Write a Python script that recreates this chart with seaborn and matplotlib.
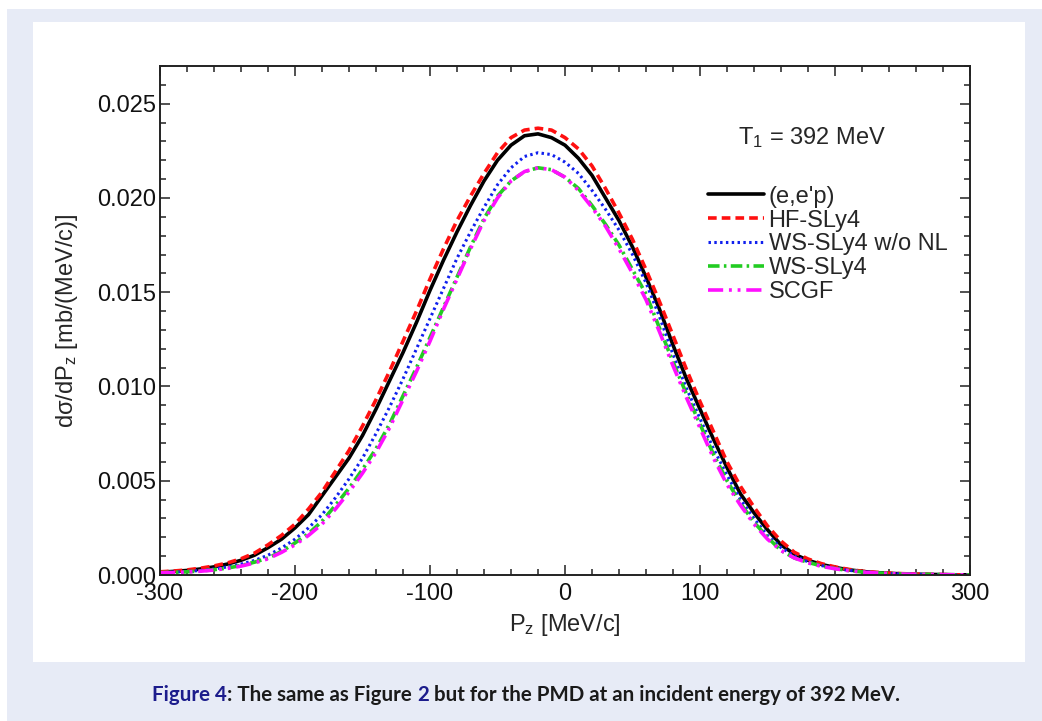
import numpy as np
import pandas as pd
import seaborn as sns
import matplotlib.pyplot as plt
from matplotlib.patches import Rectangle
from matplotlib.ticker import MultipleLocator

# momentum grid (MeV/c)
pz = list(range(-300, 301, 10))

# (e,e'p)
eep = [0.00015, 0.00019, 0.00024, 0.00032, 0.00043, 0.00058, 0.00078, 0.00105, 0.00145, 0.0019,
       0.0025, 0.0032, 0.0042, 0.0052, 0.0062, 0.0074, 0.0088, 0.0103, 0.0118, 0.0134,
       0.0151, 0.0167, 0.0182, 0.0196, 0.0209, 0.0220, 0.0228, 0.0233, 0.0234, 0.0232,
       0.0228, 0.0221, 0.0212, 0.0200, 0.0188, 0.0174, 0.0158, 0.0141, 0.0122, 0.0104,
       0.0088, 0.0072, 0.0057, 0.0043, 0.0033, 0.0024, 0.0016, 0.0011, 0.00078, 0.00056,
       0.00040, 0.00028, 0.00019, 0.00013, 0.00009, 0.00006, 0.00004, 0.00003, 0.00002, 0.00001, 0.00001]

hf_sly4 = [0.00017, 0.00021, 0.00027, 0.00036, 0.00048, 0.00064, 0.00086, 0.00116, 0.0016, 0.0021,
           0.0027, 0.0035, 0.0044, 0.0055, 0.0066, 0.0079, 0.0093, 0.0108, 0.0124, 0.0140,
           0.0157, 0.0173, 0.0188, 0.0201, 0.0213, 0.0224, 0.0232, 0.0236, 0.0237, 0.0236,
           0.0232, 0.0226, 0.0217, 0.0205, 0.0192, 0.0178, 0.0162, 0.0145, 0.0127, 0.0109,
           0.0092, 0.0076, 0.0060, 0.0047, 0.0036, 0.0026, 0.0018, 0.0012, 0.00085, 0.0006,
           0.00043, 0.0003, 0.0002, 0.00014, 0.0001, 0.00007, 0.00005, 0.00003, 0.00002, 0.00001, 0.00001]

ws_sly4_nonl = [0.00012, 0.00015, 0.00019, 0.00024, 0.00032, 0.00043, 0.00058, 0.00077, 0.00105, 0.00143,
                0.0019, 0.0025, 0.0032, 0.0041, 0.0051, 0.0062, 0.0075, 0.0089, 0.0104, 0.0120,
                0.0136, 0.0152, 0.0168, 0.0182, 0.0195, 0.0207, 0.0216, 0.0222, 0.0224, 0.0223,
                0.0219, 0.0213, 0.0204, 0.0194, 0.0183, 0.0170, 0.0155, 0.0137, 0.0117, 0.0099,
                0.0083, 0.0067, 0.0053, 0.0040, 0.0030, 0.0021, 0.00145, 0.0010, 0.0007, 0.0005,
                0.00035, 0.00025, 0.00017, 0.00012, 0.00008, 0.00005, 0.00004, 0.00003, 0.00002, 0.00001, 0.00001]

ws_sly4 = [0.00013, 0.00014, 0.00017, 0.00021, 0.00028, 0.00037, 0.0005, 0.00068, 0.0009, 0.00125,
           0.0017, 0.0022, 0.00285, 0.0037, 0.0046, 0.0056, 0.0067, 0.0080, 0.0095, 0.0110,
           0.0126, 0.0142, 0.0158, 0.0174, 0.0189, 0.0201, 0.0209, 0.0214, 0.0216, 0.0215,
           0.0211, 0.0205, 0.0196, 0.0186, 0.0175, 0.0162, 0.0149, 0.0131, 0.0113, 0.0096,
           0.0080, 0.0064, 0.0050, 0.0038, 0.0028, 0.0020, 0.0013, 0.0009, 0.00067, 0.00048,
           0.00034, 0.00024, 0.00016, 0.00011, 0.00008, 0.00005, 0.00004, 0.00003, 0.00002, 0.00001, 0.00001]

scgf = [0.00012, 0.00013, 0.00016, 0.0002, 0.00026, 0.00035, 0.00047, 0.00064, 0.00086, 0.0012,
        0.0016, 0.0021, 0.0027, 0.0035, 0.0044, 0.0054, 0.0065, 0.0078, 0.0093, 0.0108,
        0.0124, 0.0141, 0.0157, 0.0173, 0.0188, 0.0200, 0.0209, 0.0214, 0.0216, 0.0215,
        0.0211, 0.0204, 0.0195, 0.0185, 0.0173, 0.0160, 0.0146, 0.0129, 0.0111, 0.0094,
        0.0078, 0.0062, 0.0048, 0.0037, 0.0027, 0.0019, 0.0013, 0.0009, 0.00064, 0.00046,
        0.00033, 0.00023, 0.00016, 0.00011, 0.00008, 0.00005, 0.00004, 0.00003, 0.00002, 0.00001, 0.00001]

labels = ["(e,e'p)", "HF-SLy4", "WS-SLy4 w/o NL", "WS-SLy4", "SCGF"]
colors = ["#000000", "#ff1010", "#1020ee", "#22cc22", "#ff10ff"]

sns.set_style("ticks")
plt.rcParams['font.family'] = ['Liberation Sans', 'DejaVu Sans']
plt.rcParams['mathtext.default'] = 'regular'
plt.rcParams['axes.unicode_minus'] = False

fig = plt.figure(figsize=(10.42, 7.21), dpi=100)
W, H = 1042, 721
# page background + white panel
fig.patches.append(Rectangle((7 / W, 0), 1, 1 - 9 / H, transform=fig.transFigure,
                             facecolor="#e7ebf6", edgecolor="none", zorder=-3))
fig.patches.append(Rectangle((33 / W, 1 - 662 / H), (1025 - 33) / W, (662 - 22) / H,
                             transform=fig.transFigure, facecolor="white", edgecolor="none", zorder=-2))

ax = fig.add_axes([160 / W, 1 - 575 / H, 810 / W, 509 / H])
ax.set_facecolor("none")

df = pd.DataFrame({"pz": pz, "eep": eep, "hf": hf_sly4, "wsnl": ws_sly4_nonl, "ws": ws_sly4, "scgf": scgf})

sns.lineplot(data=df, x="pz", y="eep", ax=ax, color=colors[0], lw=2.6, label=labels[0])
sns.lineplot(data=df, x="pz", y="hf", ax=ax, color=colors[1], lw=2.6, label=labels[1],
             linestyle=(0, (2.4, 1.4)))
sns.lineplot(data=df, x="pz", y="wsnl", ax=ax, color=colors[2], lw=2.2, label=labels[2],
             linestyle=(0, (0.8, 1.1)))
sns.lineplot(data=df, x="pz", y="ws", ax=ax, color=colors[3], lw=2.6, label=labels[3],
             linestyle=(0, (3.2, 1.2, 0.7, 1.2)))
sns.lineplot(data=df, x="pz", y="scgf", ax=ax, color=colors[4], lw=2.6, label=labels[4],
             linestyle=(0, (4.2, 1.6, 0.8, 1.6, 0.8, 1.6)))

ax.set_xlim(-300, 300)
ax.set_ylim(0, 0.027)
ax.xaxis.set_major_locator(MultipleLocator(100))
ax.xaxis.set_minor_locator(MultipleLocator(20))
ax.yaxis.set_major_locator(MultipleLocator(0.005))
ax.yaxis.set_minor_locator(MultipleLocator(0.001))
ax.yaxis.set_major_formatter(plt.FuncFormatter(lambda v, p: f"{v:.3f}"))
ax.tick_params(which="both", direction="in", top=True, right=True, width=1.1, colors="#222222",
               labelsize=17, labelcolor="#111111")
ax.tick_params(which="major", length=7)
ax.tick_params(axis="x", which="major", pad=6)
ax.tick_params(axis="y", which="major", pad=3)
ax.tick_params(which="minor", length=4.3)
for s in ax.spines.values():
    s.set_linewidth(1.4)
    s.set_color("#222222")

ax.set_xlabel("P$_z$ [MeV/c]", fontsize=17, labelpad=5)
ax.set_ylabel("dσ/dP$_z$ [mb/(MeV/c)]", fontsize=17, labelpad=12)
ax.text(183, 0.0232, "T$_1$ = 392 MeV", fontsize=17, ha="center", va="center")

leg = ax.legend(loc="upper left", bbox_to_anchor=(0.677, 0.765), frameon=False, fontsize=17,
                handlelength=2.35, handletextpad=0.2, labelspacing=0.08, borderpad=0, borderaxespad=0)

# caption with coloured references
fig.canvas.draw()
renderer = fig.canvas.get_renderer()
parts = [("Figure 4", "#1c1c8c"), (": The same as Figure ", "#1a1a1a"), ("2", "#1c1c8c"),
         (" but for the PMD at an incident energy of 392 MeV.", "#1a1a1a")]
cap_font = dict(fontsize=14.8, fontweight="bold", family=["Lato", "DejaVu Sans"])
texts = []
widths = []
for s, c in parts:
    t = fig.text(0, 0, s, color=c, **cap_font)
    texts.append(t)
    widths.append(t.get_window_extent(renderer).width)
x = 526 - sum(widths) / 2
for t, w in zip(texts, widths):
    t.set_position((x / W, 1 - 701 / H))
    x += w

fig.savefig("out.png", dpi=100)
